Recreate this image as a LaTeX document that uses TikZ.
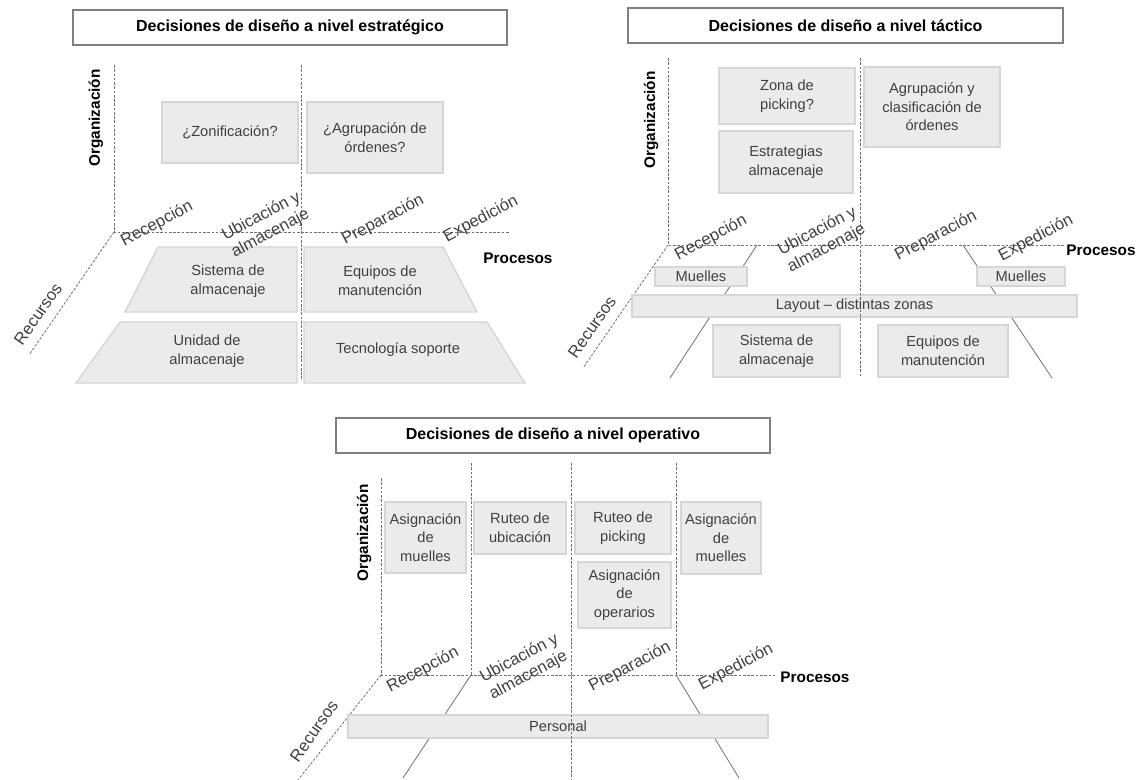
\documentclass[tikz,border=0pt]{standalone}
\usepackage{fontspec}
\setmainfont{Liberation Sans}
\usetikzlibrary{fit}

\definecolor{boxfill}{HTML}{EBEBEB}
\definecolor{boxline}{HTML}{D6D6D6}
\definecolor{axisgray}{HTML}{707070}
\definecolor{txt}{HTML}{404040}
\definecolor{frame}{HTML}{808080}

\tikzset{
  cell/.style={draw=boxline, fill=boxfill, line width=1.1pt, inner sep=0pt},
  celltext/.style={align=center, text=txt, font=\fontsize{11}{14}\selectfont, inner sep=0pt},
  heading/.style={draw=frame, fill=white, line width=0.8pt, inner sep=0pt},
  headtext/.style={font=\bfseries\fontsize{12}{14}\selectfont, inner sep=0pt},
  guide/.style={draw=axisgray, line width=0.6pt, dash pattern=on 2pt off 1.2pt},
  slant/.style={draw=axisgray, line width=0.6pt},
  tile/.style={draw=boxline, fill=boxfill, line width=1.1pt},
  proc/.style={rotate=28, align=center, text=txt, font=\fontsize{12.5}{14.5}\selectfont, inner sep=0pt},
  axislabel/.style={font=\bfseries\fontsize{11.5}{13}\selectfont, inner sep=0pt},
  reslabel/.style={rotate=55, text=txt, font=\fontsize{12.5}{14}\selectfont, inner sep=0pt},
}

\begin{document}
\begin{tikzpicture}[x=0.75pt, y=-0.75pt]
\useasboundingbox (0,0) rectangle (1141,780);

% ================= strategic level =================
\coordinate (s-o) at (114,232);
\coordinate (s-top) at (114,65);
\coordinate (s-end) at (509,232);
\coordinate (s-res) at (29,355);
\coordinate (s-mtop) at (301,65);
\coordinate (s-mbot) at (301,380);

\node[heading, fit={(73,10) (507,45)}] (s-title) {};
\node[headtext] (s-title-t) at (s-title.center) {Decisiones de diseño a nivel estratégico};

\draw[guide] (s-o) -- (s-res);

\node[cell, fit={(162,102) (298,163)}] (s-zon) {};
\node[celltext] (s-zon-t) at (s-zon.center) {¿Zonificación?};
\node[cell, fit={(307,102) (443,173)}] (s-agr) {};
\node[celltext] (s-agr-t) at (s-agr.center) {¿Agrupación de\\órdenes?};

\filldraw[tile] (158,247) -- (297,247) -- (297,312) -- (125,312) -- cycle;
\filldraw[tile] (304,247) -- (443,247) -- (477,312) -- (304,312) -- cycle;
\filldraw[tile] (120,322) -- (297,322) -- (297,383) -- (76,383) -- cycle;
\filldraw[tile] (304,322) -- (487,322) -- (525,383) -- (304,383) -- cycle;
\node[celltext] (s-sist) at (228,281) {Sistema de\\almacenaje};
\node[celltext] (s-equi) at (380,281) {Equipos de\\manutención};
\node[celltext] (s-unid) at (207,351) {Unidad de\\almacenaje};
\node[celltext] (s-tecn) at (398,350) {Tecnología soporte};

\draw[guide] (s-top) -- (s-o) -- (s-end);
\draw[guide] (s-mtop) -- (s-mbot);

\node[proc] (s-p1) at (157,224) {Recepción};
\node[proc] (s-p2) at (266,225) {Ubicación y\\almacenaje};
\node[proc] (s-p3) at (383,220) {Preparación};
\node[proc] (s-p4) at (481,219) {Expedición};
\node[axislabel] (s-proc) at (518,258) {Procesos};
\node[axislabel, rotate=90] (s-org) at (96,118) {Organización};
\node[reslabel] (s-rec) at (38,314) {Recursos};

% ================= tactical level =================
\coordinate (t-o) at (668,245);
\coordinate (t-top) at (668,58);
\coordinate (t-end) at (1065,245);
\coordinate (t-res) at (583,368);
\coordinate (t-mtop) at (860,58);
\coordinate (t-mbot) at (860,378);
\coordinate (t-l1) at (757,245);
\coordinate (t-l2) at (670,378);
\coordinate (t-r1) at (963,245);
\coordinate (t-r2) at (1052,378);

\node[heading, fit={(628,8) (1063,43)}] (t-title) {};
\node[headtext] (t-title-t) at (t-title.center) {Decisiones de diseño a nivel táctico};

\draw[guide] (t-o) -- (t-res);
\draw[slant] (t-l1) -- (t-l2);
\draw[slant] (t-r1) -- (t-r2);

\node[cell, fit={(719,68) (855,124)}] (t-zona) {};
\node[celltext] (t-zona-t) at (t-zona.center) {Zona de\\picking?};
\node[cell, fit={(719,131) (853,193)}] (t-estr) {};
\node[celltext] (t-estr-t) at (t-estr.center) {Estrategias\\almacenaje};
\node[cell, fit={(864,67) (1000,147)}] (t-agr) {};
\node[celltext] (t-agr-t) at (t-agr.center) {Agrupación y\\clasificación de\\órdenes};
\node[cell, fit={(655,267) (747,286)}] (t-mue1) {};
\node[celltext] (t-mue1-t) at (t-mue1.center) {Muelles};
\node[cell, fit={(977,267) (1065,286)}] (t-mue2) {};
\node[celltext] (t-mue2-t) at (t-mue2.center) {Muelles};
\node[cell, fit={(632,295) (1077,317)}] (t-lay) {};
\node[cell, fit={(713,325) (840,377)}] (t-sist) {};
\node[celltext] (t-sist-t) at (t-sist.center) {Sistema de\\almacenaje};
\node[cell, fit={(878,325) (1008,377)}] (t-equi) {};
\node[celltext] (t-equi-t) at (t-equi.center) {Equipos de\\manutención};

\draw[guide] (t-top) -- (t-o) -- (t-end);
\draw[guide] (t-mtop) -- (t-mbot);
\node[celltext] (t-lay-t) at (t-lay.center) {Layout – distintas zonas};

\node[proc] (t-p1) at (711,238) {Recepción};
\node[proc] (t-p2) at (822,240) {Ubicación y\\almacenaje};
\node[proc] (t-p3) at (936,236) {Preparación};
\node[proc] (t-p4) at (1036,238) {Expedición};
\node[axislabel] (t-proc) at (1101,250) {Procesos};
\node[axislabel, rotate=90] (t-org) at (651,120) {Organización};
\node[reslabel] (t-rec) at (592,327) {Recursos};

% ================= operative level =================
\coordinate (o-o) at (381,675);
\coordinate (o-top) at (381,478);
\coordinate (o-end) at (777,675);
\coordinate (o-res) at (298,780);
\coordinate (o-d1t) at (471,463);
\coordinate (o-d1b) at (471,675);
\coordinate (o-d2t) at (571,463);
\coordinate (o-d2b) at (571,780);
\coordinate (o-d3t) at (676,463);
\coordinate (o-d3b) at (676,675);
\coordinate (o-l2) at (403,778);
\coordinate (o-r2) at (739,778);

\node[heading, fit={(336,418) (770,453)}] (o-title) {};
\node[headtext] (o-title-t) at (o-title.center) {Decisiones de diseño a nivel operativo};

\draw[guide] (o-o) -- (o-res);
\draw[slant] (o-d1b) -- (o-l2);
\draw[slant] (o-d3b) -- (o-r2);

\node[cell, fit={(385,502) (466,573)}] (o-am1) {};
\node[celltext] (o-am1-t) at (o-am1.center) {Asignación\\de\\muelles};
\node[cell, fit={(474,502) (566,554)}] (o-rub) {};
\node[celltext] (o-rub-t) at (o-rub.center) {Ruteo de\\ubicación};
\node[cell, fit={(575,502) (671,554)}] (o-rpk) {};
\node[celltext] (o-rpk-t) at (o-rpk.center) {Ruteo de\\picking};
\node[cell, fit={(578,562) (671,628)}] (o-aop) {};
\node[celltext] (o-aop-t) at (o-aop.center) {Asignación\\de\\operarios};
\node[cell, fit={(681,502) (761,574)}] (o-am2) {};
\node[celltext] (o-am2-t) at (o-am2.center) {Asignación\\de\\muelles};
\node[cell, fit={(348,715) (768,738)}] (o-pers) {};

\draw[guide] (o-top) -- (o-o) -- (o-end);
\draw[guide] (o-d1t) -- (o-d1b);
\draw[guide] (o-d2t) -- (o-d2b);
\draw[guide] (o-d3t) -- (o-d3b);
\node[celltext] (o-pers-t) at (o-pers.center) {Personal};

\node[proc] (o-p1) at (423,670) {Recepción};
\node[proc] (o-p2) at (524,667) {Ubicación y\\almacenaje};
\node[proc] (o-p3) at (630,667) {Preparación};
\node[proc] (o-p4) at (736,667) {Expedición};
\node[axislabel] (o-proc) at (815,677) {Procesos};
\node[axislabel, rotate=90] (o-org) at (364,533) {Organización};
\node[reslabel] (o-rec) at (314,731) {Recursos};

\end{tikzpicture}
\end{document}
